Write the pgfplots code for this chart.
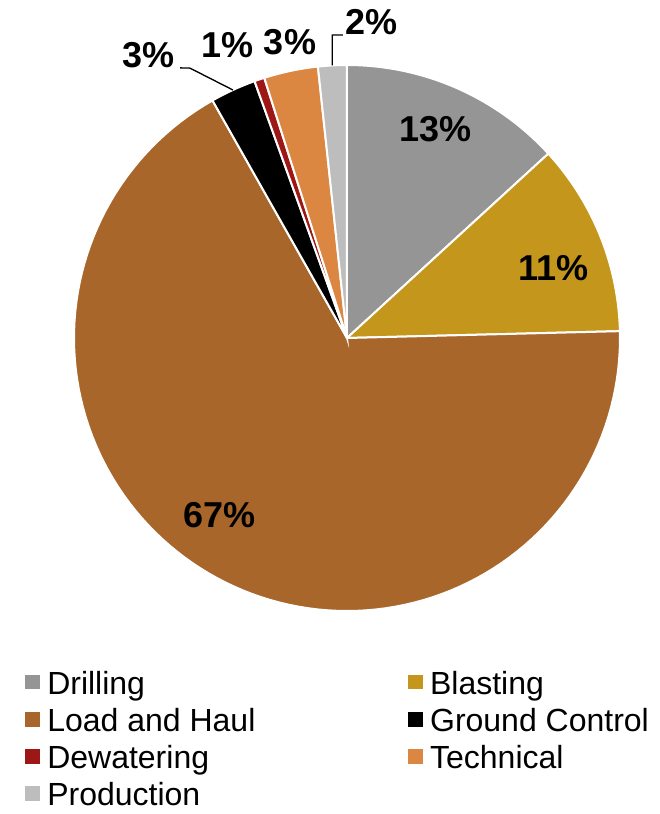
\documentclass[border=0pt]{standalone}
\usepackage{pgfplots}
\pgfplotsset{compat=1.18}
\usepgfplotslibrary{polar}
\usepackage{fontspec}
\setmainfont{Liberation Sans}

\definecolor{cDrill}{HTML}{959595}
\definecolor{cBlast}{HTML}{C4961C}
\definecolor{cLoad}{HTML}{A9662A}
\definecolor{cGround}{HTML}{000000}
\definecolor{cWater}{HTML}{9E1717}
\definecolor{cTech}{HTML}{DB8741}
\definecolor{cProd}{HTML}{BDBDBD}

% one slice: #1 cumulative share before it (%), #2 its share (%), #3 colour
\newcommand\slice[3]{%
  \addplot[fill=#3, draw=white, line width=1.5pt, samples=120,
    domain={90-3.6*(#1+#2)}:{90-3.6*(#1)}] {1} -- (axis cs:0,0) -- cycle;
}

\begin{document}
\begin{tikzpicture}
\begin{polaraxis}[
    hide axis,
    clip=false,
    scale only axis,
    width=409.5pt,
    ymin=0, ymax=1,
    legend columns=2,
    legend cell align=left,
    legend style={
        draw=none, fill=none,
        at={(axis description cs:-0.0995,-0.099)}, anchor=north west,
        font=\fontsize{24}{28}\selectfont,
        nodes={inner xsep=2pt, inner ysep=0pt, text height=20pt, text depth=1pt},
        row sep=6.8pt,
        /tikz/every even column/.append style={column sep=111.5pt},
    },
    legend image code/.code={%
        \path[#1, draw=none] (0pt,-5.6pt) rectangle (11.25pt,5.6pt);
        \path (0pt,0pt) (14pt,0pt);},
]
\slice{0}{13.2}{cDrill}
\addlegendentry{Drilling}
\slice{13.2}{11.4}{cBlast}
\addlegendentry{Blasting}
\slice{24.6}{67.2}{cLoad}
\addlegendentry{Load and Haul}
\slice{91.8}{2.7}{cGround}
\addlegendentry{Ground Control}
\slice{94.5}{0.6}{cWater}
\addlegendentry{Dewatering}
\slice{95.1}{3.2}{cTech}
\addlegendentry{Technical}
\slice{98.3}{1.7}{cProd}
\addlegendentry{Production}

\coordinate (C) at (axis cs:0,0);
\begin{scope}[font=\fontsize{27}{29}\selectfont\bfseries]
\node at (axis cs:67.1,0.83) {13\%};
\node at (axis cs:18.8,0.80) {11\%};
\node at (axis cs:234.3,0.80) {67\%};
\node at (axis cs:125.1,1.267) {3\%};
\node at (axis cs:112.1,1.159) {1\%};
\node at (axis cs:100.9,1.104) {3\%};
\node at (axis cs:85.5,1.161) {2\%};
\end{scope}
\draw[black, line width=1pt] (axis cs:121.7,1.163) -- (axis cs:120.2,1.144) -- (axis cs:114.7,1.0);
\draw[black, line width=1pt] (axis cs:90.8,1.11) -- (axis cs:92.8,1.111) -- (axis cs:93.1,1.0);
\end{polaraxis}
\pgfresetboundingbox
\path[use as bounding box] ([shift={(-260.25pt,253.5pt)}]C) rectangle ([shift={(234.75pt,-357pt)}]C);
\end{tikzpicture}
\end{document}
